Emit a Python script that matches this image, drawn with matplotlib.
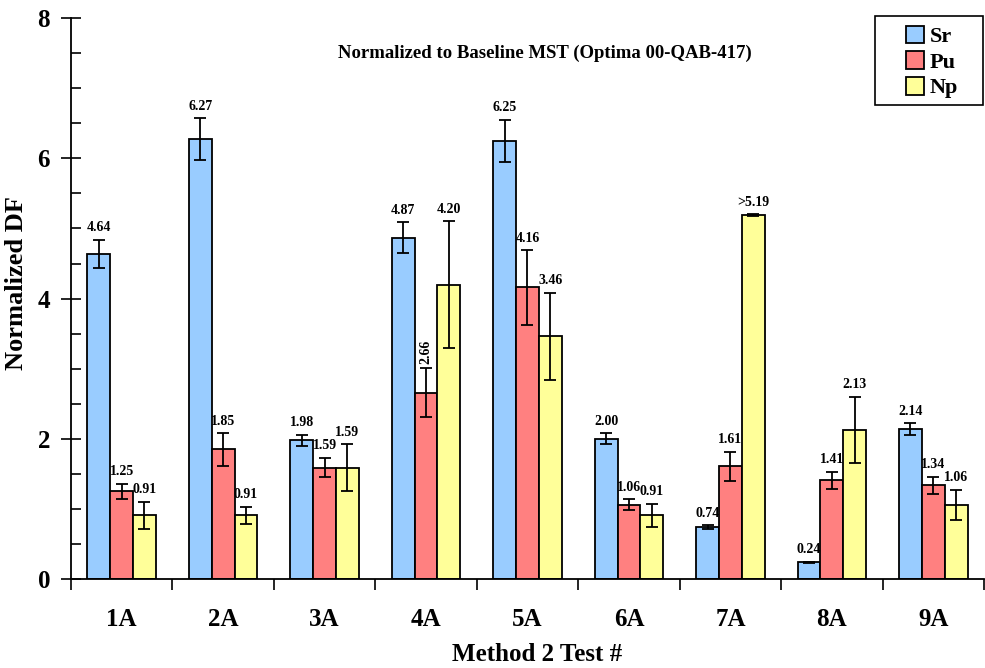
import matplotlib
matplotlib.use("Agg")
import matplotlib.pyplot as plt
from matplotlib.patches import Rectangle
import numpy as np

plt.rcParams['font.family'] = ['Liberation Serif', 'DejaVu Serif']
plt.rcParams['font.weight'] = 'bold'

tests = ["1A", "2A", "3A", "4A", "5A", "6A", "7A", "8A", "9A"]
sr = [4.64, 6.27, 1.98, 4.87, 6.25, 2.00, 0.74, 0.24, 2.14]
pu = [1.25, 1.85, 1.59, 2.66, 4.16, 1.06, 1.61, 1.41, 1.34]
np_ = [0.91, 0.91, 1.59, 4.20, 3.46, 0.91, 5.19, 2.13, 1.06]
sr_err = [0.20, 0.30, 0.08, 0.22, 0.30, 0.08, 0.03, 0.01, 0.08]
pu_err = [0.11, 0.23, 0.14, 0.35, 0.53, 0.08, 0.21, 0.12, 0.12]
np_err = [0.19, 0.12, 0.33, 0.90, 0.62, 0.16, 0.01, 0.47, 0.21]
np_labels = ["0.91", "0.91", "1.59", "4.20", "3.46", "0.91", ">5.19", "2.13", "1.06"]

fig = plt.figure(figsize=(9.85, 6.68), dpi=100)
ax = fig.add_axes([0.072, 0.133, 0.927, 0.840])

x = np.arange(len(tests))
w = 0.225
series = [
    ("Sr", sr, sr_err, "#99CCFF", [f"{v:.2f}" for v in sr]),
    ("Pu", pu, pu_err, "#FF8080", [f"{v:.2f}" for v in pu]),
    ("Np", np_, np_err, "#FFFF99", np_labels),
]
for i, (name, vals, errs, col, labs) in enumerate(series):
    xs = x + (i - 1) * w
    ax.bar(xs, vals, w, color=col, edgecolor="black", linewidth=1.3, label=name, zorder=2)
    ax.errorbar(xs, vals, yerr=errs, fmt="none", ecolor="black", elinewidth=1.3,
                capsize=4, capthick=1.3, zorder=3)
    for xi, v, e, lab in zip(xs, vals, errs, labs):
        if name == "Pu" and lab == "2.66":
            ax.text(xi, v + e + 0.06, lab, ha="center", va="bottom", rotation=90,
                    fontsize=10, fontweight="bold")
        else:
            ax.text(xi, v + e + 0.08, lab, ha="center", va="bottom",
                    fontsize=10, fontweight="bold")

ax.set_xlim(-0.5, 8.5)
ax.set_ylim(0, 8)
ax.set_yticks([0, 2, 4, 6, 8])
ax.set_yticks(np.arange(0, 8.01, 0.5), minor=True)
ax.tick_params(axis="y", which="major", direction="inout", length=14, width=1.2,
               labelsize=18, pad=8)
ax.tick_params(axis="y", which="minor", direction="in", length=7, width=1.2)
ax.set_xticks(x)
ax.set_xticklabels(tests)
ax.set_xticks(np.arange(-0.5, 8.6, 1), minor=True)
ax.tick_params(axis="x", which="major", length=0, labelsize=18, pad=21)
ax.tick_params(axis="x", which="minor", direction="out", length=8, width=1.2)
for lab in ax.get_xticklabels() + ax.get_yticklabels():
    lab.set_fontweight("bold")

ax.spines["top"].set_visible(False)
ax.spines["right"].set_visible(False)
ax.spines["left"].set_linewidth(1.3)
ax.spines["bottom"].set_linewidth(1.3)

ax.set_ylabel("Normalized DF", fontsize=19, fontweight="bold", labelpad=10)
ax.yaxis.set_label_coords(-0.047, 0.528)
fig.text(0.545, 1 - 661 / 668, "Method 2 Test #", ha="center", va="baseline",
         fontsize=18, fontweight="bold")
fig.text(0.553, 1 - 53 / 668, "Normalized to Baseline MST (Optima 00-QAB-417)",
         ha="center", va="center", fontsize=13.5, fontweight="bold")

# legend: plain black frame, entries centred inside it
fig.patches.append(Rectangle((875 / 985, 1 - 105 / 668), 108 / 985, 89 / 668,
                             transform=fig.transFigure, facecolor="white",
                             edgecolor="black", linewidth=1.2, zorder=5))
leg = fig.legend(*ax.get_legend_handles_labels(), loc="center",
                 bbox_to_anchor=(932 / 985, 1 - 62 / 668), fontsize=16, frameon=False,
                 handlelength=0.85, handleheight=0.85, handletextpad=0.25,
                 borderpad=0.2, labelspacing=0.18)
leg.set_zorder(6)
for t in leg.get_texts():
    t.set_fontweight("bold")

fig.savefig("out.png", dpi=100)
